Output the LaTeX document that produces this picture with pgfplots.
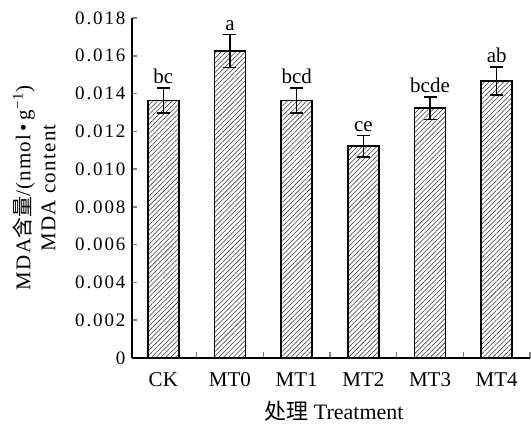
\documentclass[border=0pt]{standalone}
\usepackage{fontspec}
\setmainfont{Liberation Serif}
\newfontfamily\cjk{Noto Sans CJK SC}
\usepackage{pgfplots}
\usepackage{pgfplotstable}
\pgfplotsset{compat=1.18}
\usetikzlibrary{patterns.meta}

\pgfplotstableread{
x y e lab
0 0.01363 0.00067 bc
1 0.01625 0.00087 a
2 0.01363 0.00067 bcd
3 0.01122 0.00057 ce
4 0.01322 0.00060 bcde
5 0.01466 0.00074 ab
}\mdadata

\begin{document}
\begin{tikzpicture}
\begin{axis}[at={(0,0)},anchor=south west,
    scale only axis,width=398pt,height=340pt,
    xmin=-0.47,xmax=5.5,ymin=0,ymax=0.018,
    axis x line=bottom,axis y line=left,
    axis line style={-,line width=1.6pt},
    tick align=inside,
    xtick={0,...,5},
    xticklabels={CK,MT0,MT1,MT2,MT3,MT4},
    minor xtick={0.5,1.5,...,5.5},
    major x tick style={draw=none},
    minor x tick style={line width=1.6pt},
    minor tick length=6pt,
    ytick={0,0.002,...,0.018},
    scaled y ticks=false,
    yticklabels={0,0.002,0.004,0.006,0.008,0.010,0.012,0.014,0.016,0.018},
    y tick style={line width=1.6pt},
    major tick length=5pt,
    /pgf/number format/assume math mode=true,
    yticklabel style={font=\fontsize{19}{22}\selectfont\addfontfeatures{LetterSpace=10},xshift=-3pt},
    xticklabel style={font=\fontsize{21}{24}\selectfont,yshift=-11pt},
    xlabel={{\cjk 处理} Treatment},
    xlabel style={font=\fontsize{22}{26}\selectfont,at={(axis description cs:0.5,0)},anchor=base,yshift=-62pt,xshift=3pt},
    ylabel={MDA{\cjk 含量}/(nmol\,•\,g\textsuperscript{−1})\\MDA content},
    ylabel style={font=\fontsize{21}{25}\selectfont\addfontfeatures{LetterSpace=6},align=center,
      at={(axis description cs:-0.1834,0.5)},anchor=south},
    clip=false]
\addplot[ybar,bar width=31pt,draw=black,line width=1.6pt,
    pattern={Lines[angle=45,distance=3.4pt,line width=0.55pt]},pattern color=black!80,
    error bars/.cd,y dir=both,y explicit,
    error bar style={line width=1.5pt,black},
    error mark options={rotate=90,mark size=6.5pt,line width=1.5pt,black}]
  table[x=x,y=y,y error=e]{\mdadata};
\addplot[draw=none,mark=none,nodes near coords,point meta=explicit symbolic,
    nodes near coords style={font=\fontsize{21}{24}\selectfont,anchor=south,yshift=0.5pt}]
  table[x=x,y expr=\thisrow{y}+\thisrow{e},meta=lab]{\mdadata};
\end{axis}
\pgfresetboundingbox
\path (-132pt,-69pt) rectangle (399pt,358pt);
\end{tikzpicture}
\end{document}
